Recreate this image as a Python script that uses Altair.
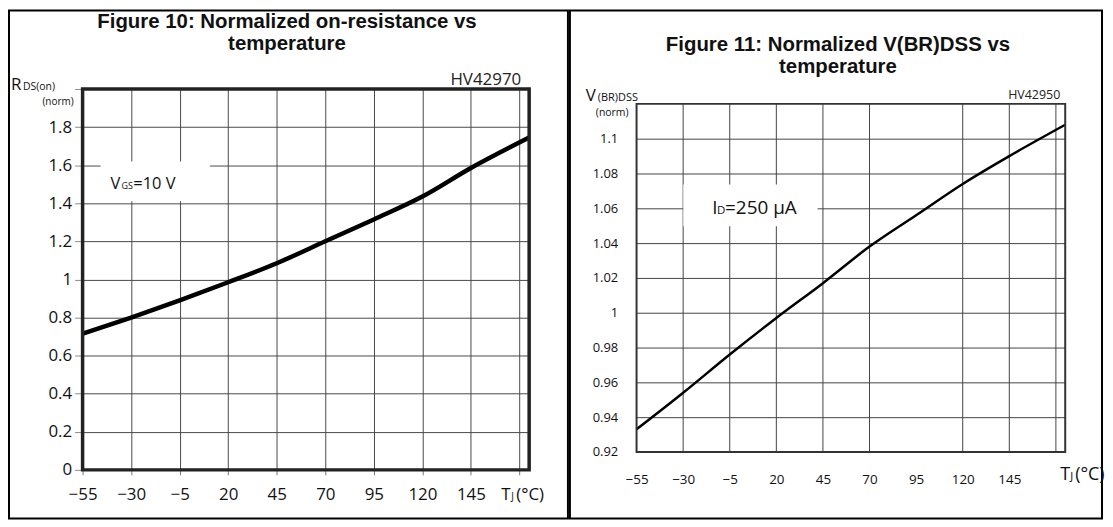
import altair as alt
import pandas as pd

# ---------------- data ----------------
temps_a = [-55, -30, -5, 20, 45, 70, 95, 120, 145, 175]
rds_on = [0.715, 0.80, 0.89, 0.985, 1.085, 1.20, 1.315, 1.435, 1.585, 1.745]

temps_b = [-55, -30, -5, 20, 45, 70, 95, 120, 145, 175]
v_br = [0.933, 0.954, 0.976, 0.997, 1.017, 1.038, 1.056, 1.074, 1.090, 1.108]

xticks_a = [-55, -30, -5, 20, 45, 70, 95, 120, 145, 170]
yticks_a = [0, 0.2, 0.4, 0.6, 0.8, 1, 1.2, 1.4, 1.6, 1.8, 2]
xlabels_b = [-55, -30, -5, 20, 45, 70, 95, 120, 145]
xgrid_b = [-30, -5, 20, 45, 70, 120, 145, 170]
yticks_b = [0.92, 0.94, 0.96, 0.98, 1, 1.02, 1.04, 1.06, 1.08, 1.1]

LBL = "Open Sans"
TTL = "Liberation Sans"

one = pd.DataFrame({"k": [0]})


def txt(s, x, y, size, font=LBL, weight="normal", align="left", color="#111"):
    return alt.Chart(one).mark_text(
        text=s, align=align, baseline="alphabetic", font=font,
        fontSize=size, fontWeight=weight, color=color
    ).encode(x=alt.value(x), y=alt.value(y))


def box(x1, x2, y1, y2, **kw):
    return alt.Chart(one).mark_rect(**kw).encode(
        x=alt.value(x1), x2=alt.value(x2), y=alt.value(y1), y2=alt.value(y2)
    )


# common view height (both plot areas start at the same top)
H = 383

# ---------------- left panel ----------------
WA = 449
df_a = pd.DataFrame({"t": temps_a, "v": rds_on})

line_a = alt.Chart(df_a).mark_line(
    color="#000", strokeWidth=4.5, interpolate="monotone"
).encode(
    x=alt.X("t:Q", scale=alt.Scale(domain=[-55, 175], nice=False, zero=False),
            axis=alt.Axis(values=xticks_a, title=None, grid=True, gridColor="#4a4a4a",
                          gridWidth=1, domain=False, ticks=True, tickSize=5,
                          tickColor="#777", labelFont=LBL, labelFontSize=17,
                          labelColor="#111", labelPadding=12, labelFlush=False,
                          labelOverlap=False,
                          labelExpr="datum.value > 150 ? '' : datum.label")),
    y=alt.Y("v:Q", scale=alt.Scale(domain=[0, 2], nice=False, zero=False),
            axis=alt.Axis(values=yticks_a, title=None, grid=True, gridColor="#4a4a4a",
                          gridWidth=1, domain=False, ticks=True, tickSize=8,
                          tickColor="#888", labelFont=LBL, labelFontSize=17,
                          labelColor="#111", labelPadding=3, labelFlush=False,
                          labelOverlap=False, format="~g",
                          labelExpr="datum.value >= 2 ? '' : datum.label")),
)

left = alt.layer(
    box(-74, 488, -79, 432, fillOpacity=0, stroke="#000", strokeWidth=2),
    box(18, 128, 73, 113, fill="#fff"),
    line_a,
    box(0, WA, 0, H, fillOpacity=0, stroke="#222", strokeWidth=3.5),
    txt("Figure 10: Normalized on-resistance vs", 205.5, -61, 20.5, font=TTL, weight="bold", align="center"),
    txt("temperature", 205.5, -39, 20.5, font=TTL, weight="bold", align="center"),
    txt("HV42970", 441, -4, 17, align="right", color="#222"),
    txt("R", -72, 1, 17),
    txt("DS(on)", -60, 1, 10.5),
    txt("(norm)", -9, 16, 10, align="right"),
    txt("V", 28, 101, 16.5),
    txt("GS", 39, 101, 9),
    txt("=10 V", 51, 101, 16.5),
    txt("T", 421, 413, 17),
    txt("J", 431, 413, 10),
    txt("(°C)", 436, 413, 17),
).properties(width=WA, height=H)

# ---------------- right panel ----------------
WB = 431
df_b = pd.DataFrame({"t": temps_b, "v": v_br})
df_grid_b = pd.DataFrame({"t": xgrid_b})

xs_b = alt.Scale(domain=[-55, 175], nice=False, zero=False)
ys_b = alt.Scale(domain=[0.92, 1.12], range=[365, 15], nice=False, zero=False)

line_b = alt.Chart(df_b).mark_line(
    color="#000", strokeWidth=2.5, interpolate="monotone"
).encode(
    x=alt.X("t:Q", scale=xs_b,
            axis=alt.Axis(values=xlabels_b, title=None, grid=False, domain=False,
                          ticks=False, labelFont=LBL, labelFontSize=13.5,
                          labelColor="#111", labelPadding=3, labelFlush=False,
                          labelOverlap=False)),
    y=alt.Y("v:Q", scale=ys_b,
            axis=alt.Axis(values=yticks_b, title=None, grid=True, gridColor="#444",
                          gridWidth=1, domain=False, ticks=False, labelFont=LBL,
                          labelFontSize=13, labelColor="#111", labelPadding=19,
                          labelFlush=False, labelOverlap=False, format="~g")),
)

grid_b = alt.Chart(df_grid_b).mark_rule(color="#444", strokeWidth=1).encode(
    x=alt.X("t:Q"), y=alt.datum(0.92), y2=alt.datum(1.12)
)

border_b = alt.Chart(one).mark_rect(fillOpacity=0, stroke="#333", strokeWidth=2).encode(
    x=alt.datum(-55), x2=alt.datum(175), y=alt.datum(0.92), y2=alt.datum(1.12)
)

right = alt.layer(
    box(-67, 468, -79, 432, fillOpacity=0, stroke="#000", strokeWidth=2),
    grid_b,
    box(47, 182, 96, 138, fill="#fff"),
    line_b,
    border_b,
    txt("Figure 11: Normalized V(BR)DSS vs", 202.5, -38, 20.5, font=TTL, weight="bold", align="center"),
    txt("temperature", 202.5, -16, 20.5, font=TTL, weight="bold", align="center"),
    txt("HV42950", 426, 10, 12.5, align="right", color="#222"),
    txt("V", -51, 12, 17),
    txt("(BR)DSS", -39, 12, 11),
    txt("(norm)", -8, 27, 10.5, align="right"),
    txt("I", 76, 126, 19),
    txt("D", 81, 126, 11.5),
    txt("=250 µA", 89, 126, 19),
    txt("T", 426, 393, 18),
    txt("J", 436, 393, 11),
    txt("(°C)", 441, 393, 18),
).properties(width=WB, height=H)

chart = alt.hconcat(left, right, spacing=0).properties(
    padding=0, background="#fff"
).configure_view(strokeWidth=0)

chart.save("out.html", embed_options={"renderer": "svg", "actions": False})
